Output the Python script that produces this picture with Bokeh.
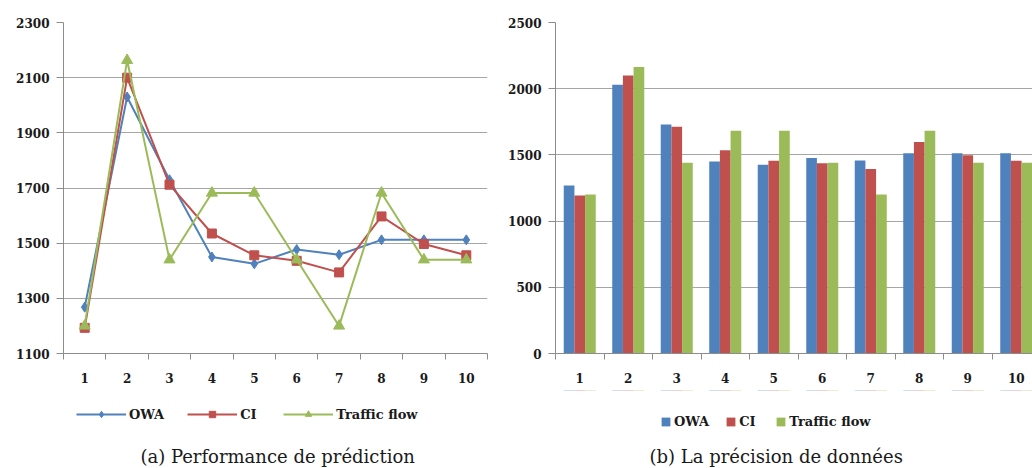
from bokeh.plotting import figure
from bokeh.models import FixedTicker, Legend, LegendItem, Label
from bokeh.layouts import row, column
from bokeh.transform import dodge
from bokeh.embed import file_html
from bokeh.resources import INLINE

categories = [1, 2, 3, 4, 5, 6, 7, 8, 9, 10]
owa = [1268, 2030, 1730, 1450, 1425, 1477, 1458, 1512, 1512, 1512]
ci = [1193, 2100, 1712, 1535, 1456, 1436, 1394, 1597, 1497, 1456]
traffic = [1200, 2163, 1440, 1682, 1682, 1440, 1200, 1682, 1440, 1440]
series_names = ["OWA", "CI", "Traffic flow"]
colors = ["#4F81BD", "#C0504D", "#9BBB59"]
left_yticks = [1100, 1300, 1500, 1700, 1900, 2100, 2300]
right_yticks = [0, 500, 1000, 1500, 2000, 2500]
captions = ["(a) Performance de prédiction", "(b) La précision de données"]

SERIF = "DejaVu Serif"
TXT = "#1a1a1a"
series = [owa, ci, traffic]
boundaries = [c - 0.5 for c in categories] + [categories[-1] + 0.5]

H_MAIN = 390
H_STRIP = 78
TOP = 22
BOTTOM = 37
W1, W2 = 492, 540
XR1 = (0.5, 10.5)
XR2 = (0.5, 10.335)


def style(p, yticks):
    p.outline_line_color = None
    p.xgrid.grid_line_color = None
    p.ygrid.grid_line_color = "#A6A6A6"
    p.yaxis.ticker = FixedTicker(ticks=yticks)
    p.xaxis.ticker = FixedTicker(ticks=categories, minor_ticks=boundaries)
    for ax in (p.xaxis[0], p.yaxis[0]):
        ax.axis_line_color = "#8C8C8C"
        ax.major_tick_line_color = "#8C8C8C"
        ax.minor_tick_line_color = "#8C8C8C"
        ax.major_label_text_font = SERIF
        ax.major_label_text_font_style = "bold"
        ax.major_label_text_font_size = "12px"
        ax.major_label_text_color = TXT
    p.xaxis.major_tick_out = 0
    p.xaxis.major_tick_in = 0
    p.xaxis.minor_tick_out = 6
    p.xaxis.minor_tick_in = 0
    p.xaxis.major_label_standoff = 13
    p.yaxis.major_tick_out = 7
    p.yaxis.major_tick_in = 0
    p.yaxis.minor_tick_line_color = None
    p.yaxis.major_label_standoff = 7


def strip(width, x_range, border_right):
    s = figure(width=width, height=H_STRIP, x_range=x_range, y_range=(0, 1),
               x_axis_location=None, y_axis_location=None,
               output_backend="svg", toolbar_location=None,
               min_border_left=63, min_border_right=border_right,
               min_border_top=0, min_border_bottom=0)
    s.outline_line_color = None
    s.grid.grid_line_color = None
    return s


def caption(s, text, x):
    s.add_layout(Label(x=x, y=0.16, text=text, text_align="center",
                       text_baseline="middle", text_font=SERIF,
                       text_font_size="18px", text_color=TXT))


markers = ["diamond", "square", "triangle"]
msizes = [10, 9, 11]

# ---------- (a) line chart ----------
p1 = figure(width=W1, height=H_MAIN, x_range=XR1, y_range=(1100, 2300),
            output_backend="svg", toolbar_location=None,
            min_border_left=63, min_border_right=5,
            min_border_top=TOP, min_border_bottom=BOTTOM)
style(p1, left_yticks)
for vals, col, mk, ms in zip(series, colors, markers, msizes):
    p1.line(categories, vals, line_color=col, line_width=2)
    p1.scatter(categories, vals, marker=mk, size=ms, fill_color=col, line_color=col)

# legend strip for (a): same series, lying outside the strip's 0..1 range
s1 = strip(W1, XR1, 5)
items = []
for name, vals, col, mk, ms in zip(series_names, series, colors, markers, msizes):
    ln = s1.line(categories, vals, line_color=col, line_width=2)
    sc = s1.scatter(categories, vals, marker=mk, size=ms, fill_color=col, line_color=col)
    items.append(LegendItem(label=name, renderers=[ln, sc]))
leg1 = Legend(items=items, orientation="horizontal", location=(13, 46),
              glyph_width=50, glyph_height=16, label_height=16,
              label_text_font=SERIF, label_text_font_style="bold",
              label_text_font_size="13px", label_text_color=TXT,
              border_line_color=None, background_fill_alpha=0,
              spacing=23, padding=2, margin=0, label_standoff=3)
s1.add_layout(leg1, "center")
caption(s1, captions[0], 5.55)

# ---------- (b) bar chart ----------
p2 = figure(width=W2, height=H_MAIN, x_range=XR2, y_range=(0, 2500),
            output_backend="svg", toolbar_location=None,
            min_border_left=63, min_border_right=0,
            min_border_top=TOP, min_border_bottom=BOTTOM)
style(p2, right_yticks)

data = dict(cat=categories, owa=owa, ci=ci, traffic=traffic)
keys = ["owa", "ci", "traffic"]
offsets = [-0.22, 0.0, 0.22]
for key, col, off in zip(keys, colors, offsets):
    p2.vbar(x=dodge("cat", off), top=key, width=0.22, bottom=0, source=data,
            fill_color=col, line_color=None)

# legend strip for (b): zero-height bars at the data values, outside 0..1
s2 = strip(W2, XR2, 0)
items2 = []
for name, key, col, off in zip(series_names, keys, colors, offsets):
    r = s2.vbar(x=dodge("cat", off), top=key, bottom=key, width=0.22, source=data,
                fill_color=col, line_color=None)
    items2.append(LegendItem(label=name, renderers=[r]))
leg2 = Legend(items=items2, orientation="horizontal", location=(105, 39),
              glyph_width=11, glyph_height=11, label_height=16,
              label_text_font=SERIF, label_text_font_style="bold",
              label_text_font_size="13px", label_text_color=TXT,
              border_line_color=None, background_fill_alpha=0,
              spacing=16, padding=2, margin=0, label_standoff=3)
s2.add_layout(leg2, "center")
caption(s2, captions[1], 5.05)

layout = column(row(p1, p2), row(s1, s2))
open("out.html", "w").write(file_html(layout, INLINE))
